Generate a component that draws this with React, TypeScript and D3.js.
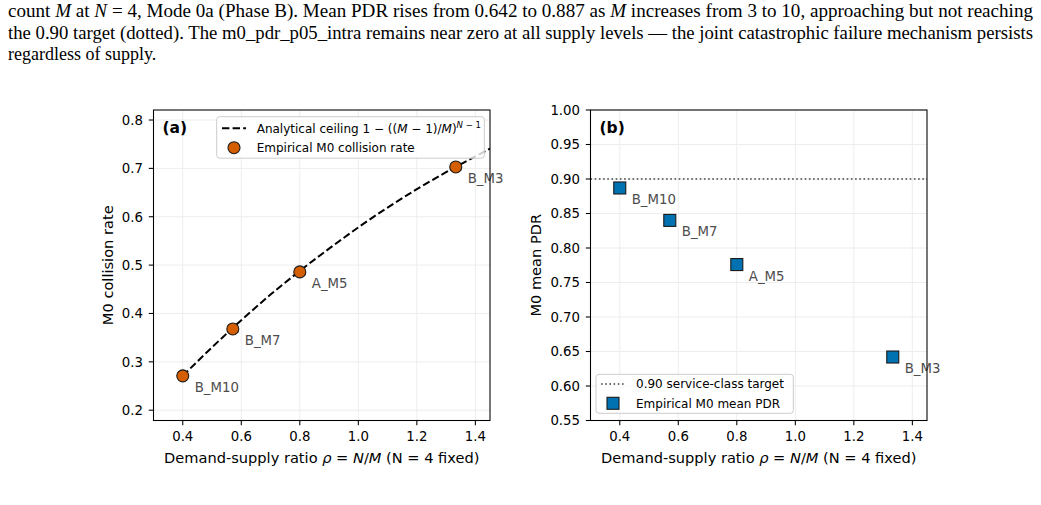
import * as d3 from "d3";

// operating points (rho = N / M, N = 4)
const pointLabels = ["B_M10", "B_M7", "A_M5", "B_M3"];
const rhoValues = [0.4, 0.571, 0.8, 1.333];
const collisionRate = [0.271, 0.368, 0.486, 0.703];
const meanPdr = [0.887, 0.84, 0.776, 0.642];

// analytical ceiling curve
const ceilingRho = [0.4, 0.5, 0.6, 0.7, 0.8, 0.9, 1.0, 1.1, 1.2, 1.3, 1.4, 1.5];
const ceilingRate = [0.271, 0.33, 0.386, 0.439, 0.488, 0.534, 0.578, 0.619, 0.657, 0.692, 0.725, 0.756];

const xTicks = [0.4, 0.6, 0.8, 1.0, 1.2, 1.4];
const yTicksA = [0.2, 0.3, 0.4, 0.5, 0.6, 0.7, 0.8];
const yTicksB = [0.55, 0.6, 0.65, 0.7, 0.75, 0.8, 0.85, 0.9, 0.95, 1.0];
const pdrTarget = 0.9;

const ORANGE = "#d55e00";
const BLUE = "#0072b2";
const FONT = "DejaVu Sans, sans-serif";
const SERIF = "Liberation Serif, Times New Roman, serif";

const TOP = 110;
const BOTTOM = 420.5;

type Lin = d3.ScaleLinear<number, number>;

function Frame({
  x,
  y,
  yTicks,
  fmt,
  yLabel,
  yLabelX,
  tag,
  clipId,
}: {
  x: Lin;
  y: Lin;
  yTicks: number[];
  fmt: (v: number) => string;
  yLabel: string;
  yLabelX: number;
  tag: string;
  clipId: string;
}) {
  const [x0, x1] = x.range();
  const [y0, y1] = y.range();
  const tick = 4.7;
  return (
    <g>
      <defs>
        <clipPath id={clipId}>
          <rect x={x0} y={y1} width={x1 - x0} height={y0 - y1} />
        </clipPath>
      </defs>
      {xTicks.map((t) => (
        <line key={"gx" + t} x1={x(t)} x2={x(t)} y1={y0} y2={y1} stroke="#ebebeb" strokeWidth={0.9} />
      ))}
      {yTicks.map((t) => (
        <line key={"gy" + t} x1={x0} x2={x1} y1={y(t)} y2={y(t)} stroke="#ebebeb" strokeWidth={0.9} />
      ))}
      {xTicks.map((t) => (
        <g key={"tx" + t}>
          <line x1={x(t)} x2={x(t)} y1={y0} y2={y0 + tick} stroke="#000" strokeWidth={1.07} />
          <text x={x(t)} y={y0 + 20.5} textAnchor="middle" fontSize={13.3} fontFamily={FONT}>
            {t.toFixed(1)}
          </text>
        </g>
      ))}
      {yTicks.map((t) => (
        <g key={"ty" + t}>
          <line x1={x0 - tick} x2={x0} y1={y(t)} y2={y(t)} stroke="#000" strokeWidth={1.07} />
          <text x={x0 - 10.5} y={y(t)} dy="0.36em" textAnchor="end" fontSize={13.3} fontFamily={FONT}>
            {fmt(t)}
          </text>
        </g>
      ))}
      <text x={(x0 + x1) / 2} y={463} textAnchor="middle" fontSize={14.6} fontFamily={FONT}>
        Demand-supply ratio <tspan fontStyle="italic">ρ</tspan> = <tspan fontStyle="italic">N</tspan>/
        <tspan fontStyle="italic">M</tspan> (N = 4 fixed)
      </text>
      <text
        transform={`translate(${yLabelX},${(y0 + y1) / 2}) rotate(-90)`}
        textAnchor="middle"
        fontSize={14.6}
        fontFamily={FONT}
      >
        {yLabel}
      </text>
      <text x={x0 + 9} y={y1 + 23} fontSize={15.5} fontWeight="bold" fontFamily={FONT}>
        {tag}
      </text>
    </g>
  );
}

function Spines({ x, y }: { x: Lin; y: Lin }) {
  const [x0, x1] = x.range();
  const [y0, y1] = y.range();
  return <rect x={x0} y={y1} width={x1 - x0} height={y0 - y1} fill="none" stroke="#000" strokeWidth={1.07} />;
}

function Labels({ x, y, values }: { x: Lin; y: Lin; values: number[] }) {
  return (
    <g>
      {pointLabels.map((l, i) => (
        <text key={l} x={x(rhoValues[i]) + 12} y={y(values[i]) + 16} fontSize={13.3} fill="#4d4d4d" fontFamily={FONT}>
          {l}
        </text>
      ))}
    </g>
  );
}

function PanelA() {
  const x = d3.scaleLinear().domain([0.3, 1.45]).range([153.5, 490]);
  const y = d3.scaleLinear().domain([0.1787, 0.8207]).range([BOTTOM, TOP]);
  const pts = ceilingRho.map((r, i) => [r, ceilingRate[i]] as [number, number]);
  const line = d3
    .line<[number, number]>()
    .x((d) => x(d[0]))
    .y((d) => y(d[1]))
    .curve(d3.curveMonotoneX);
  return (
    <g>
      <Frame
        x={x}
        y={y}
        yTicks={yTicksA}
        fmt={(v) => v.toFixed(1)}
        yLabel="M0 collision rate"
        yLabelX={113}
        tag="(a)"
        clipId="clipA"
      />
      <path
        d={line(pts) ?? ""}
        fill="none"
        stroke="#000"
        strokeWidth={2}
        strokeDasharray="7.4,3.2"
        clipPath="url(#clipA)"
      />
      {rhoValues.map((r, i) => (
        <circle key={r} cx={x(r)} cy={y(collisionRate[i])} r={6} fill={ORANGE} stroke="#1a1a1a" strokeWidth={1.1} />
      ))}
      <Labels x={x} y={y} values={collisionRate} />
      <g>
        <rect x={216.7} y={116.7} width={267.6} height={41.5} rx={3} fill="#fff" fillOpacity={0.8} stroke="#cccccc" strokeWidth={1} />
        <line x1={222} x2={246} y1={128.3} y2={128.3} stroke="#000" strokeWidth={2} strokeDasharray="7.4,3.2" />
        <text x={256.7} y={128.3} dy="0.36em" fontSize={12} fontFamily={FONT}>
          Analytical ceiling 1 − ((<tspan fontStyle="italic">M</tspan> − 1)/<tspan fontStyle="italic">M</tspan>)
          <tspan dy={-5} fontSize={8.5}>
            <tspan fontStyle="italic">N</tspan> − 1
          </tspan>
        </text>
        <circle cx={234} cy={147.7} r={6} fill={ORANGE} stroke="#1a1a1a" strokeWidth={1.1} />
        <text x={256.7} y={147.7} dy="0.36em" fontSize={12} fontFamily={FONT}>
          Empirical M0 collision rate
        </text>
      </g>
      <Spines x={x} y={y} />
    </g>
  );
}

function PanelB() {
  const x = d3.scaleLinear().domain([0.3, 1.45]).range([590.5, 927]);
  const y = d3.scaleLinear().domain([0.55, 1.0]).range([BOTTOM, TOP]);
  const [x0, x1] = x.range();
  return (
    <g>
      <Frame
        x={x}
        y={y}
        yTicks={yTicksB}
        fmt={(v) => v.toFixed(2)}
        yLabel="M0 mean PDR"
        yLabelX={541}
        tag="(b)"
        clipId="clipB"
      />
      <line x1={x0} x2={x1} y1={y(pdrTarget)} y2={y(pdrTarget)} stroke="#444" strokeWidth={1.6} strokeDasharray="1.6,2.6" />
      {rhoValues.map((r, i) => (
        <rect key={r} x={x(r) - 6} y={y(meanPdr[i]) - 6} width={12} height={12} fill={BLUE} stroke="#1a1a1a" strokeWidth={1.1} />
      ))}
      <Labels x={x} y={y} values={meanPdr} />
      <g>
        <rect x={596} y={374.3} width={197.3} height={39} rx={3} fill="#fff" fillOpacity={0.8} stroke="#cccccc" strokeWidth={1} />
        <line x1={601} x2={625} y1={384} y2={384} stroke="#444" strokeWidth={1.6} strokeDasharray="1.6,2.6" />
        <text x={636} y={384} dy="0.36em" fontSize={12} fontFamily={FONT}>
          0.90 service-class target
        </text>
        <rect x={607} y={397.3} width={12} height={12} fill={BLUE} stroke="#1a1a1a" strokeWidth={1.1} />
        <text x={636} y={403.3} dy="0.36em" fontSize={12} fontFamily={FONT}>
          Empirical M0 mean PDR
        </text>
      </g>
      <Spines x={x} y={y} />
    </g>
  );
}

function Caption() {
  const it = { fontStyle: "italic" as const };
  return (
    <g fontFamily={SERIF} fontSize={18} fill="#000">
      <text x={8} y={17} textLength={1025} lengthAdjust="spacingAndGlyphs">
        count <tspan {...it}>M</tspan> at <tspan {...it}>N</tspan> = 4, Mode 0a (Phase B). Mean PDR rises from 0.642 to
        0.887 as <tspan {...it}>M</tspan> increases from 3 to 10, approaching but not reaching
      </text>
      <text x={8} y={39} textLength={1025} lengthAdjust="spacingAndGlyphs">
        the 0.90 target (dotted). The m0_pdr_p05_intra remains near zero at all supply levels — the joint catastrophic
        failure mechanism persists
      </text>
      <text x={8} y={60}>
        regardless of supply.
      </text>
    </g>
  );
}

export default function App() {
  return (
    <svg
      width={1041}
      height={505}
      viewBox="0 0 1041 505"
      style={{ position: "absolute", left: 0, top: 0, background: "#fff" }}
    >
      <rect width={1041} height={505} fill="#fff" />
      <Caption />
      <PanelA />
      <PanelB />
    </svg>
  );
}
